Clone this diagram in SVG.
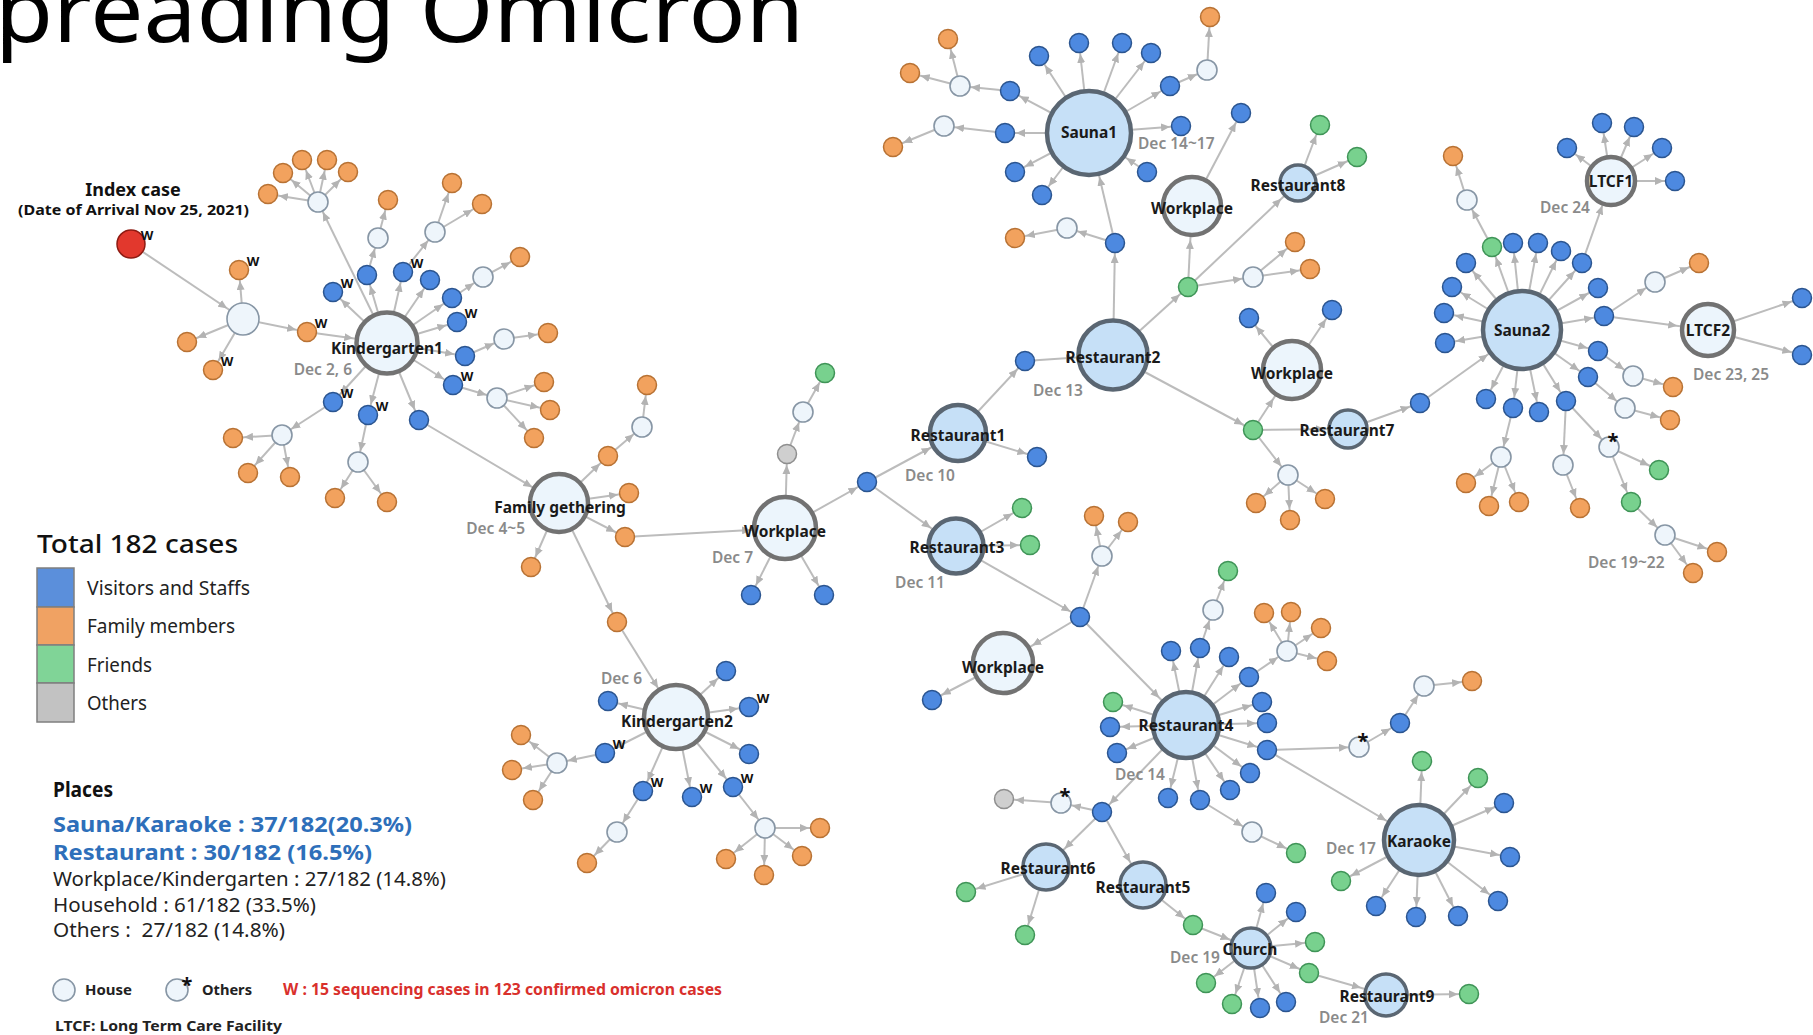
<svg xmlns="http://www.w3.org/2000/svg" width="1813" height="1035" viewBox="0 0 1813 1035">
<style>
text{font-family:"Noto Sans","Open Sans",sans-serif}
.b{fill:#4d89e0;stroke:#2b5590;stroke-width:1.5}
.o{fill:#f2a25e;stroke:#b87234;stroke-width:1.5}
.g{fill:#78d18e;stroke:#3f9457;stroke-width:1.5}
.y{fill:#cfcfcf;stroke:#8f8f8f;stroke-width:1.5}
.h{fill:#eef5fb;stroke:#8796a5;stroke-width:1.6}
.P{fill:#c6e0f7;stroke:#5a6672;stroke-width:4.5}
.Q{fill:#ecf5fc;stroke:#727272;stroke-width:4.5}
.t{stroke-width:3.5}
.lb{font-weight:700;font-size:15.5px;fill:#1a1a1a;text-anchor:middle}
.dt{font-weight:600;font-size:15.5px;fill:#8a8a8a}
.de{font-weight:600;font-size:15.5px;fill:#8a8a8a;text-anchor:end}
.w{font-weight:700;font-size:13px;fill:#111;text-anchor:middle}
.st{font-weight:700;font-size:20px;fill:#111;text-anchor:middle}
.lg{font-size:19px;fill:#222}
.pl{font-size:19px;fill:#222}
.pb{font-size:21.5px;font-weight:700;fill:#2e6fba}
.sm{font-size:15px;font-weight:700;fill:#222}
</style>
<defs>
<marker id="a" viewBox="0 0 9 8" refX="20" refY="4" markerWidth="9" markerHeight="8" markerUnits="userSpaceOnUse" orient="auto"><path d="M0,0L9,4L0,8z" fill="#b3b3b3"/></marker>
<marker id="a17" viewBox="0 0 9 8" refX="28" refY="4" markerWidth="9" markerHeight="8" markerUnits="userSpaceOnUse" orient="auto"><path d="M0,0L9,4L0,8z" fill="#b3b3b3"/></marker>
<marker id="a20" viewBox="0 0 9 8" refX="32" refY="4" markerWidth="9" markerHeight="8" markerUnits="userSpaceOnUse" orient="auto"><path d="M0,0L9,4L0,8z" fill="#b3b3b3"/></marker>
<marker id="a23" viewBox="0 0 9 8" refX="35" refY="4" markerWidth="9" markerHeight="8" markerUnits="userSpaceOnUse" orient="auto"><path d="M0,0L9,4L0,8z" fill="#b3b3b3"/></marker>
<marker id="a28" viewBox="0 0 9 8" refX="40" refY="4" markerWidth="9" markerHeight="8" markerUnits="userSpaceOnUse" orient="auto"><path d="M0,0L9,4L0,8z" fill="#b3b3b3"/></marker>
<marker id="a31" viewBox="0 0 9 8" refX="43" refY="4" markerWidth="9" markerHeight="8" markerUnits="userSpaceOnUse" orient="auto"><path d="M0,0L9,4L0,8z" fill="#b3b3b3"/></marker>
<marker id="a35" viewBox="0 0 9 8" refX="47" refY="4" markerWidth="9" markerHeight="8" markerUnits="userSpaceOnUse" orient="auto"><path d="M0,0L9,4L0,8z" fill="#b3b3b3"/></marker>
<marker id="a39" viewBox="0 0 9 8" refX="51" refY="4" markerWidth="9" markerHeight="8" markerUnits="userSpaceOnUse" orient="auto"><path d="M0,0L9,4L0,8z" fill="#b3b3b3"/></marker>
<marker id="a42" viewBox="0 0 9 8" refX="54" refY="4" markerWidth="9" markerHeight="8" markerUnits="userSpaceOnUse" orient="auto"><path d="M0,0L9,4L0,8z" fill="#b3b3b3"/></marker>
</defs>
<rect width="1813" height="1035" fill="#fff"/>
<text x="-5" y="42" font-family="'Open Sans','Noto Sans',sans-serif" font-size="88" fill="#000" textLength="809" lengthAdjust="spacingAndGlyphs">preading Omicron</text>

<g id="connectors" stroke="#bcbcbc" stroke-width="2" fill="none">
<g marker-end="url(#a)">
<line x1="243" y1="319" x2="239" y2="270"/><line x1="243" y1="319" x2="187" y2="342"/><line x1="243" y1="319" x2="213" y2="370"/><line x1="243" y1="319" x2="307" y2="332"/>
<line x1="387" y1="343" x2="318" y2="202"/><line x1="387" y1="343" x2="333" y2="292"/><line x1="387" y1="343" x2="367" y2="275"/><line x1="387" y1="343" x2="403" y2="272"/><line x1="387" y1="343" x2="430" y2="280"/><line x1="387" y1="343" x2="452" y2="298"/><line x1="387" y1="343" x2="457" y2="322"/><line x1="387" y1="343" x2="465" y2="356"/><line x1="387" y1="343" x2="453" y2="385"/><line x1="387" y1="343" x2="333" y2="402"/><line x1="387" y1="343" x2="368" y2="415"/><line x1="387" y1="343" x2="419" y2="420"/>
<line x1="318" y1="202" x2="268" y2="194"/><line x1="318" y1="202" x2="283" y2="173"/><line x1="318" y1="202" x2="302" y2="160"/><line x1="318" y1="202" x2="327" y2="160"/><line x1="318" y1="202" x2="348" y2="172"/>
<line x1="367" y1="275" x2="378" y2="238"/><line x1="378" y1="238" x2="388" y2="200"/>
<line x1="403" y1="272" x2="435" y2="232"/><line x1="435" y1="232" x2="452" y2="183"/><line x1="435" y1="232" x2="482" y2="204"/>
<line x1="452" y1="298" x2="483" y2="277"/><line x1="483" y1="277" x2="520" y2="257"/>
<line x1="465" y1="356" x2="504" y2="339"/><line x1="504" y1="339" x2="548" y2="333"/>
<line x1="453" y1="385" x2="497" y2="398"/><line x1="497" y1="398" x2="544" y2="382"/><line x1="497" y1="398" x2="550" y2="410"/><line x1="497" y1="398" x2="534" y2="438"/>
<line x1="333" y1="402" x2="282" y2="435"/><line x1="282" y1="435" x2="233" y2="438"/><line x1="282" y1="435" x2="248" y2="473"/><line x1="282" y1="435" x2="290" y2="477"/>
<line x1="368" y1="415" x2="358" y2="462"/><line x1="358" y1="462" x2="335" y2="498"/><line x1="358" y1="462" x2="387" y2="502"/>
<line x1="559" y1="503" x2="608" y2="456"/><line x1="559" y1="503" x2="629" y2="493"/><line x1="559" y1="503" x2="625" y2="537"/><line x1="559" y1="503" x2="531" y2="567"/><line x1="559" y1="503" x2="617" y2="622"/>
<line x1="608" y1="456" x2="642" y2="427"/><line x1="642" y1="427" x2="647" y2="385"/>
<line x1="785" y1="528" x2="787" y2="454"/><line x1="785" y1="528" x2="751" y2="595"/><line x1="785" y1="528" x2="824" y2="595"/><line x1="785" y1="528" x2="867" y2="482"/>
<line x1="787" y1="454" x2="803" y2="412"/><line x1="803" y1="412" x2="825" y2="373"/>
<line x1="676" y1="717" x2="726" y2="671"/><line x1="676" y1="717" x2="608" y2="701"/><line x1="676" y1="717" x2="749" y2="707"/><line x1="676" y1="717" x2="749" y2="754"/><line x1="676" y1="717" x2="605" y2="753"/><line x1="676" y1="717" x2="643" y2="791"/><line x1="676" y1="717" x2="692" y2="797"/><line x1="676" y1="717" x2="733" y2="787"/>
<line x1="605" y1="753" x2="557" y2="763"/><line x1="557" y1="763" x2="521" y2="735"/><line x1="557" y1="763" x2="512" y2="770"/><line x1="557" y1="763" x2="533" y2="800"/>
<line x1="643" y1="791" x2="617" y2="832"/><line x1="617" y1="832" x2="587" y2="863"/>
<line x1="733" y1="787" x2="765" y2="828"/><line x1="765" y1="828" x2="820" y2="828"/><line x1="765" y1="828" x2="802" y2="856"/><line x1="765" y1="828" x2="764" y2="875"/><line x1="765" y1="828" x2="726" y2="859"/>
<line x1="958" y1="433" x2="1037" y2="457"/><line x1="958" y1="433" x2="1025" y2="361"/>
<line x1="956" y1="546" x2="1022" y2="508"/><line x1="956" y1="546" x2="1030" y2="545"/><line x1="956" y1="546" x2="1080" y2="617"/>
<line x1="1080" y1="617" x2="1102" y2="556"/><line x1="1102" y1="556" x2="1094" y2="516"/><line x1="1102" y1="556" x2="1128" y2="522"/>
<line x1="1003" y1="663" x2="932" y2="700"/>
<line x1="1113" y1="355" x2="1115" y2="243"/><line x1="1113" y1="355" x2="1188" y2="287"/><line x1="1113" y1="355" x2="1253" y2="430"/>
<line x1="1115" y1="243" x2="1067" y2="228"/><line x1="1067" y1="228" x2="1015" y2="238"/>
<line x1="1192" y1="206" x2="1241" y2="113"/>
<line x1="1298" y1="183" x2="1320" y2="125"/><line x1="1298" y1="183" x2="1357" y2="157"/>
<line x1="1188" y1="287" x2="1253" y2="277"/><line x1="1253" y1="277" x2="1295" y2="242"/><line x1="1253" y1="277" x2="1310" y2="269"/>
<line x1="1292" y1="370" x2="1249" y2="318"/><line x1="1292" y1="370" x2="1332" y2="310"/>
<line x1="1253" y1="430" x2="1288" y2="475"/><line x1="1288" y1="475" x2="1256" y2="503"/><line x1="1288" y1="475" x2="1290" y2="520"/><line x1="1288" y1="475" x2="1325" y2="499"/>
<line x1="1348" y1="429" x2="1420" y2="403"/>
<line x1="1089" y1="133" x2="1039" y2="56"/><line x1="1089" y1="133" x2="1079" y2="43"/><line x1="1089" y1="133" x2="1122" y2="43"/><line x1="1089" y1="133" x2="1151" y2="53"/><line x1="1089" y1="133" x2="1170" y2="86"/><line x1="1089" y1="133" x2="1010" y2="91"/><line x1="1089" y1="133" x2="1005" y2="133"/><line x1="1089" y1="133" x2="1015" y2="172"/><line x1="1089" y1="133" x2="1042" y2="195"/><line x1="1089" y1="133" x2="1181" y2="126"/>
<line x1="1170" y1="86" x2="1207" y2="70"/><line x1="1207" y1="70" x2="1210" y2="17"/>
<line x1="1010" y1="91" x2="960" y2="86"/><line x1="960" y1="86" x2="948" y2="39"/><line x1="960" y1="86" x2="910" y2="73"/>
<line x1="1005" y1="133" x2="944" y2="126"/><line x1="944" y1="126" x2="893" y2="147"/>
<line x1="1522" y1="330" x2="1492" y2="247"/><line x1="1522" y1="330" x2="1513" y2="243"/><line x1="1522" y1="330" x2="1538" y2="243"/><line x1="1522" y1="330" x2="1561" y2="251"/><line x1="1522" y1="330" x2="1582" y2="263"/><line x1="1522" y1="330" x2="1466" y2="263"/><line x1="1522" y1="330" x2="1452" y2="287"/><line x1="1522" y1="330" x2="1444" y2="313"/><line x1="1522" y1="330" x2="1445" y2="343"/><line x1="1522" y1="330" x2="1598" y2="288"/><line x1="1522" y1="330" x2="1604" y2="316"/><line x1="1522" y1="330" x2="1598" y2="351"/><line x1="1522" y1="330" x2="1588" y2="377"/><line x1="1522" y1="330" x2="1486" y2="399"/><line x1="1522" y1="330" x2="1513" y2="408"/><line x1="1522" y1="330" x2="1539" y2="412"/><line x1="1522" y1="330" x2="1566" y2="401"/>
<line x1="1492" y1="247" x2="1467" y2="200"/><line x1="1467" y1="200" x2="1453" y2="156"/>
<line x1="1611" y1="181" x2="1567" y2="148"/><line x1="1611" y1="181" x2="1602" y2="123"/><line x1="1611" y1="181" x2="1634" y2="127"/><line x1="1611" y1="181" x2="1662" y2="148"/><line x1="1611" y1="181" x2="1675" y2="181"/>
<line x1="1708" y1="330" x2="1802" y2="298"/><line x1="1708" y1="330" x2="1802" y2="355"/>
<line x1="1604" y1="316" x2="1655" y2="282"/><line x1="1655" y1="282" x2="1699" y2="263"/>
<line x1="1598" y1="351" x2="1633" y2="376"/><line x1="1633" y1="376" x2="1673" y2="387"/>
<line x1="1588" y1="377" x2="1625" y2="408"/><line x1="1625" y1="408" x2="1670" y2="420"/>
<line x1="1513" y1="408" x2="1501" y2="457"/><line x1="1501" y1="457" x2="1466" y2="483"/><line x1="1501" y1="457" x2="1489" y2="506"/><line x1="1501" y1="457" x2="1519" y2="502"/>
<line x1="1566" y1="401" x2="1563" y2="465"/><line x1="1563" y1="465" x2="1580" y2="508"/>
<line x1="1566" y1="401" x2="1609" y2="447"/><line x1="1609" y1="447" x2="1659" y2="470"/><line x1="1609" y1="447" x2="1631" y2="502"/><line x1="1631" y1="502" x2="1665" y2="535"/><line x1="1665" y1="535" x2="1717" y2="552"/><line x1="1665" y1="535" x2="1693" y2="573"/>
<line x1="1186" y1="725" x2="1113" y2="702"/><line x1="1186" y1="725" x2="1110" y2="727"/><line x1="1186" y1="725" x2="1117" y2="753"/><line x1="1186" y1="725" x2="1171" y2="651"/><line x1="1186" y1="725" x2="1200" y2="648"/><line x1="1186" y1="725" x2="1229" y2="657"/><line x1="1186" y1="725" x2="1249" y2="677"/><line x1="1186" y1="725" x2="1262" y2="702"/><line x1="1186" y1="725" x2="1267" y2="723"/><line x1="1186" y1="725" x2="1267" y2="750"/><line x1="1186" y1="725" x2="1250" y2="773"/><line x1="1186" y1="725" x2="1230" y2="790"/><line x1="1186" y1="725" x2="1200" y2="800"/><line x1="1186" y1="725" x2="1168" y2="798"/><line x1="1186" y1="725" x2="1102" y2="812"/>
<line x1="1200" y1="648" x2="1213" y2="610"/><line x1="1213" y1="610" x2="1228" y2="571"/>
<line x1="1249" y1="677" x2="1287" y2="651"/><line x1="1287" y1="651" x2="1264" y2="613"/><line x1="1287" y1="651" x2="1291" y2="612"/><line x1="1287" y1="651" x2="1321" y2="628"/><line x1="1287" y1="651" x2="1327" y2="661"/>
<line x1="1267" y1="750" x2="1359" y2="747"/><line x1="1359" y1="747" x2="1400" y2="723"/><line x1="1400" y1="723" x2="1424" y2="686"/><line x1="1424" y1="686" x2="1472" y2="681"/>
<line x1="1200" y1="800" x2="1252" y2="832"/><line x1="1252" y1="832" x2="1296" y2="853"/>
<line x1="1102" y1="812" x2="1061" y2="803"/><line x1="1061" y1="803" x2="1004" y2="799"/>
<line x1="1046" y1="867" x2="966" y2="892"/><line x1="1046" y1="867" x2="1025" y2="935"/>
<line x1="1143" y1="885" x2="1193" y2="925"/>
<line x1="1251" y1="948" x2="1266" y2="893"/><line x1="1251" y1="948" x2="1296" y2="912"/><line x1="1251" y1="948" x2="1315" y2="942"/><line x1="1251" y1="948" x2="1309" y2="973"/><line x1="1251" y1="948" x2="1206" y2="983"/><line x1="1251" y1="948" x2="1232" y2="1004"/><line x1="1251" y1="948" x2="1260" y2="1008"/><line x1="1251" y1="948" x2="1286" y2="1002"/>
<line x1="1386" y1="995" x2="1469" y2="994"/>
<line x1="1419" y1="840" x2="1422" y2="761"/><line x1="1419" y1="840" x2="1478" y2="778"/><line x1="1419" y1="840" x2="1504" y2="803"/><line x1="1419" y1="840" x2="1510" y2="857"/><line x1="1419" y1="840" x2="1498" y2="901"/><line x1="1419" y1="840" x2="1458" y2="916"/><line x1="1419" y1="840" x2="1416" y2="917"/><line x1="1419" y1="840" x2="1376" y2="906"/><line x1="1419" y1="840" x2="1341" y2="881"/>
</g>
<g marker-end="url(#a17)"><line x1="131" y1="244" x2="243" y2="319"/></g>
<g marker-end="url(#a20)"><line x1="1188" y1="287" x2="1298" y2="183"/><line x1="1253" y1="430" x2="1348" y2="429"/><line x1="1193" y1="925" x2="1251" y2="948"/></g>
<g marker-end="url(#a23)"><line x1="1582" y1="263" x2="1611" y2="181"/><line x1="1102" y1="812" x2="1046" y2="867"/><line x1="1102" y1="812" x2="1143" y2="885"/><line x1="1309" y1="973" x2="1386" y2="995"/></g>
<g marker-end="url(#a28)"><line x1="419" y1="420" x2="559" y2="503"/><line x1="867" y1="482" x2="958" y2="433"/><line x1="867" y1="482" x2="956" y2="546"/><line x1="1604" y1="316" x2="1708" y2="330"/></g>
<g marker-end="url(#a31)"><line x1="307" y1="332" x2="387" y2="343"/><line x1="625" y1="537" x2="785" y2="528"/><line x1="617" y1="622" x2="676" y2="717"/><line x1="1080" y1="617" x2="1003" y2="663"/><line x1="1188" y1="287" x2="1192" y2="206"/><line x1="1253" y1="430" x2="1292" y2="370"/></g>
<g marker-end="url(#a35)"><line x1="1025" y1="361" x2="1113" y2="355"/><line x1="1080" y1="617" x2="1186" y2="725"/><line x1="1267" y1="750" x2="1419" y2="840"/></g>
<g marker-end="url(#a39)"><line x1="1420" y1="403" x2="1522" y2="330"/></g>
<g marker-end="url(#a42)"><line x1="1115" y1="243" x2="1089" y2="133"/><line x1="1147" y1="172" x2="1089" y2="133"/></g>
</g>

<g id="index_case"><text x="133" y="196" font-size="18" font-weight="700" text-anchor="middle" fill="#111">Index case</text><text x="18" y="215" font-size="14" font-weight="700" fill="#111" textLength="231" lengthAdjust="spacingAndGlyphs">(Date of Arrival Nov 25, 2021)</text><circle cx="131" cy="244" r="14" fill="#e2382d" stroke="#8e1b12" stroke-width="1.5"/><text class="w" x="147" y="240">W</text></g>

<g id="places">
<g id="kindergarten1"><circle class="Q" cx="387" cy="343" r="30.5"/><text class="lb" x="387" y="354">Kindergarten1</text><text class="de" x="352" y="375">Dec 2, 6</text></g>
<g id="family_gathering"><circle class="Q" cx="559" cy="503" r="29"/><text class="lb" x="560" y="513">Family gethering</text><text class="de" x="525" y="534">Dec 4~5</text></g>
<g id="workplace1"><circle class="Q" cx="785" cy="528" r="31"/><text class="lb" x="785" y="537">Workplace</text><text class="de" x="753" y="563">Dec 7</text></g>
<g id="kindergarten2"><circle class="Q" cx="676" cy="717" r="32"/><text class="lb" x="677" y="727">Kindergarten2</text><text class="de" x="642" y="684">Dec 6</text></g>
<g id="restaurant1"><circle class="P" cx="958" cy="433" r="28"/><text class="lb" x="958" y="441">Restaurant1</text><text class="dt" x="905" y="481">Dec 10</text></g>
<g id="restaurant3"><circle class="P" cx="956" cy="546" r="27.5"/><text class="lb" x="957" y="553">Restaurant3</text><text class="de" x="945" y="588">Dec 11</text></g>
<g id="workplace3"><circle class="Q" cx="1003" cy="663" r="30"/><text class="lb" x="1003" y="673">Workplace</text></g>
<g id="restaurant2"><circle class="P" cx="1113" cy="355" r="34.5"/><text class="lb" x="1113" y="363">Restaurant2</text><text class="dt" x="1033" y="396">Dec 13</text></g>
<g id="sauna1"><circle class="P" cx="1089" cy="133" r="42"/><text class="lb" x="1089" y="138">Sauna1</text><text class="dt" x="1138" y="149">Dec 14~17</text></g>
<g id="workplace_upper"><circle class="Q" cx="1192" cy="206" r="29"/><text class="lb" x="1192" y="214">Workplace</text></g>
<g id="restaurant8"><circle class="P t" cx="1298" cy="183" r="18"/><text class="lb" x="1298" y="191">Restaurant8</text></g>
<g id="workplace_lower"><circle class="Q" cx="1292" cy="370" r="29"/><text class="lb" x="1292" y="379">Workplace</text></g>
<g id="restaurant7"><circle class="P t" cx="1348" cy="429" r="19"/><text class="lb" x="1347" y="436">Restaurant7</text></g>
<g id="restaurant4"><circle class="P" cx="1186" cy="725" r="33"/><text class="lb" x="1186" y="731">Restaurant4</text><text class="dt" x="1115" y="780">Dec 14</text></g>
<g id="karaoke"><circle class="P" cx="1419" cy="840" r="35"/><text class="lb" x="1419" y="847">Karaoke</text><text class="dt" x="1326" y="854">Dec 17</text></g>
<g id="restaurant6"><circle class="P t" cx="1046" cy="867" r="23"/><text class="lb" x="1048" y="874">Restaurant6</text></g>
<g id="restaurant5"><circle class="P t" cx="1143" cy="885" r="23"/><text class="lb" x="1143" y="893">Restaurant5</text></g>
<g id="church"><circle class="P t" cx="1251" cy="948" r="20"/><text class="lb" x="1250" y="955">Church</text><text class="dt" x="1170" y="963">Dec 19</text></g>
<g id="restaurant9"><circle class="P t" cx="1386" cy="995" r="21"/><text class="lb" x="1387" y="1002">Restaurant9</text><text class="dt" x="1319" y="1023">Dec 21</text></g>
<g id="sauna2"><circle class="P" cx="1522" cy="330" r="39"/><text class="lb" x="1522" y="336">Sauna2</text><text class="dt" x="1588" y="568">Dec 19~22</text></g>
<g id="ltcf1"><circle class="Q" stroke-width="4" cx="1611" cy="181" r="24"/><text class="lb" x="1611" y="187">LTCF1</text><text class="dt" x="1540" y="213">Dec 24</text></g>
<g id="ltcf2"><circle class="Q" stroke-width="4" cx="1708" cy="330" r="26"/><text class="lb" x="1708" y="336">LTCF2</text><text class="dt" x="1693" y="380">Dec 23, 25</text></g>
</g>

<g id="houses">
<g id="h0"><circle class="h" cx="243" cy="319" r="16"/></g>
<g id="h1"><circle class="h" cx="318" cy="202" r="10"/></g>
<g id="h2"><circle class="h" cx="378" cy="238" r="10"/></g>
<g id="h3"><circle class="h" cx="435" cy="232" r="10"/></g>
<g id="h4"><circle class="h" cx="483" cy="277" r="10"/></g>
<g id="h5"><circle class="h" cx="504" cy="339" r="10"/></g>
<g id="h6"><circle class="h" cx="497" cy="398" r="10"/></g>
<g id="h7"><circle class="h" cx="282" cy="435" r="10"/></g>
<g id="h8"><circle class="h" cx="358" cy="462" r="10"/></g>
<g id="h9"><circle class="h" cx="642" cy="427" r="10"/></g>
<g id="h10"><circle class="h" cx="803" cy="412" r="10"/></g>
<g id="h11"><circle class="h" cx="557" cy="763" r="10"/></g>
<g id="h12"><circle class="h" cx="617" cy="832" r="10"/></g>
<g id="h13"><circle class="h" cx="765" cy="828" r="10"/></g>
<g id="h14"><circle class="h" cx="1102" cy="556" r="10"/></g>
<g id="h15"><circle class="h" cx="1067" cy="228" r="10"/></g>
<g id="h16"><circle class="h" cx="1253" cy="277" r="10"/></g>
<g id="h17"><circle class="h" cx="1288" cy="475" r="10"/></g>
<g id="h18"><circle class="h" cx="1207" cy="70" r="10"/></g>
<g id="h19"><circle class="h" cx="960" cy="86" r="10"/></g>
<g id="h20"><circle class="h" cx="944" cy="126" r="10"/></g>
<g id="h21"><circle class="h" cx="1467" cy="200" r="10"/></g>
<g id="h22"><circle class="h" cx="1655" cy="282" r="10"/></g>
<g id="h23"><circle class="h" cx="1633" cy="376" r="10"/></g>
<g id="h24"><circle class="h" cx="1625" cy="408" r="10"/></g>
<g id="h25"><circle class="h" cx="1501" cy="457" r="10"/></g>
<g id="h26"><circle class="h" cx="1563" cy="465" r="10"/></g>
<g id="h27"><circle class="h" cx="1609" cy="447" r="10"/><text class="st" x="1613" y="448">*</text></g>
<g id="h28"><circle class="h" cx="1665" cy="535" r="10"/></g>
<g id="h29"><circle class="h" cx="1213" cy="610" r="10"/></g>
<g id="h30"><circle class="h" cx="1287" cy="651" r="10"/></g>
<g id="h31"><circle class="h" cx="1359" cy="747" r="10"/><text class="st" x="1363" y="748">*</text></g>
<g id="h32"><circle class="h" cx="1424" cy="686" r="10"/></g>
<g id="h33"><circle class="h" cx="1252" cy="832" r="10"/></g>
<g id="h34"><circle class="h" cx="1061" cy="803" r="10"/><text class="st" x="1065" y="803">*</text></g>
</g>

<g id="cases">
<g id="o1"><circle class="o" cx="239" cy="270" r="9.5"/><text class="w" x="253" y="266">W</text></g>
<g id="o2"><circle class="o" cx="187" cy="342" r="9.5"/></g>
<g id="o3"><circle class="o" cx="213" cy="370" r="9.5"/><text class="w" x="227" y="366">W</text></g>
<g id="o4"><circle class="o" cx="307" cy="332" r="9.5"/><text class="w" x="321" y="328">W</text></g>
<g id="o5"><circle class="o" cx="268" cy="194" r="9.5"/></g>
<g id="o6"><circle class="o" cx="283" cy="173" r="9.5"/></g>
<g id="o7"><circle class="o" cx="302" cy="160" r="9.5"/></g>
<g id="o8"><circle class="o" cx="327" cy="160" r="9.5"/></g>
<g id="o9"><circle class="o" cx="348" cy="172" r="9.5"/></g>
<g id="b1"><circle class="b" cx="333" cy="292" r="9.5"/><text class="w" x="347" y="288">W</text></g>
<g id="b2"><circle class="b" cx="367" cy="275" r="9.5"/></g>
<g id="o10"><circle class="o" cx="388" cy="200" r="9.5"/></g>
<g id="b3"><circle class="b" cx="403" cy="272" r="9.5"/><text class="w" x="417" y="268">W</text></g>
<g id="o11"><circle class="o" cx="452" cy="183" r="9.5"/></g>
<g id="o12"><circle class="o" cx="482" cy="204" r="9.5"/></g>
<g id="b4"><circle class="b" cx="430" cy="280" r="9.5"/></g>
<g id="b5"><circle class="b" cx="452" cy="298" r="9.5"/></g>
<g id="o13"><circle class="o" cx="520" cy="257" r="9.5"/></g>
<g id="b6"><circle class="b" cx="457" cy="322" r="9.5"/><text class="w" x="471" y="318">W</text></g>
<g id="b7"><circle class="b" cx="465" cy="356" r="9.5"/></g>
<g id="o14"><circle class="o" cx="548" cy="333" r="9.5"/></g>
<g id="b8"><circle class="b" cx="453" cy="385" r="9.5"/><text class="w" x="467" y="381">W</text></g>
<g id="o15"><circle class="o" cx="544" cy="382" r="9.5"/></g>
<g id="o16"><circle class="o" cx="550" cy="410" r="9.5"/></g>
<g id="o17"><circle class="o" cx="534" cy="438" r="9.5"/></g>
<g id="b9"><circle class="b" cx="333" cy="402" r="9.5"/><text class="w" x="347" y="398">W</text></g>
<g id="o18"><circle class="o" cx="233" cy="438" r="9.5"/></g>
<g id="o19"><circle class="o" cx="248" cy="473" r="9.5"/></g>
<g id="o20"><circle class="o" cx="290" cy="477" r="9.5"/></g>
<g id="b10"><circle class="b" cx="368" cy="415" r="9.5"/><text class="w" x="382" y="411">W</text></g>
<g id="o21"><circle class="o" cx="335" cy="498" r="9.5"/></g>
<g id="o22"><circle class="o" cx="387" cy="502" r="9.5"/></g>
<g id="b11"><circle class="b" cx="419" cy="420" r="9.5"/></g>
<g id="o23"><circle class="o" cx="608" cy="456" r="9.5"/></g>
<g id="o24"><circle class="o" cx="647" cy="385" r="9.5"/></g>
<g id="o25"><circle class="o" cx="629" cy="493" r="9.5"/></g>
<g id="o26"><circle class="o" cx="625" cy="537" r="9.5"/></g>
<g id="o27"><circle class="o" cx="531" cy="567" r="9.5"/></g>
<g id="o28"><circle class="o" cx="617" cy="622" r="9.5"/></g>
<g id="gy1"><circle class="y" cx="787" cy="454" r="9.5"/></g>
<g id="g1"><circle class="g" cx="825" cy="373" r="9.5"/></g>
<g id="b12"><circle class="b" cx="751" cy="595" r="9.5"/></g>
<g id="b13"><circle class="b" cx="824" cy="595" r="9.5"/></g>
<g id="b14"><circle class="b" cx="867" cy="482" r="9.5"/></g>
<g id="b15"><circle class="b" cx="726" cy="671" r="9.5"/></g>
<g id="b16"><circle class="b" cx="608" cy="701" r="9.5"/></g>
<g id="b17"><circle class="b" cx="749" cy="707" r="9.5"/><text class="w" x="763" y="703">W</text></g>
<g id="b18"><circle class="b" cx="749" cy="754" r="9.5"/></g>
<g id="b19"><circle class="b" cx="605" cy="753" r="9.5"/><text class="w" x="619" y="749">W</text></g>
<g id="o29"><circle class="o" cx="521" cy="735" r="9.5"/></g>
<g id="o30"><circle class="o" cx="512" cy="770" r="9.5"/></g>
<g id="o31"><circle class="o" cx="533" cy="800" r="9.5"/></g>
<g id="b20"><circle class="b" cx="643" cy="791" r="9.5"/><text class="w" x="657" y="787">W</text></g>
<g id="o32"><circle class="o" cx="587" cy="863" r="9.5"/></g>
<g id="b21"><circle class="b" cx="692" cy="797" r="9.5"/><text class="w" x="706" y="793">W</text></g>
<g id="b22"><circle class="b" cx="733" cy="787" r="9.5"/><text class="w" x="747" y="783">W</text></g>
<g id="o33"><circle class="o" cx="820" cy="828" r="9.5"/></g>
<g id="o34"><circle class="o" cx="802" cy="856" r="9.5"/></g>
<g id="o35"><circle class="o" cx="764" cy="875" r="9.5"/></g>
<g id="o36"><circle class="o" cx="726" cy="859" r="9.5"/></g>
<g id="b23"><circle class="b" cx="1037" cy="457" r="9.5"/></g>
<g id="b24"><circle class="b" cx="1025" cy="361" r="9.5"/></g>
<g id="g2"><circle class="g" cx="1022" cy="508" r="9.5"/></g>
<g id="g3"><circle class="g" cx="1030" cy="545" r="9.5"/></g>
<g id="b25"><circle class="b" cx="1080" cy="617" r="9.5"/></g>
<g id="o37"><circle class="o" cx="1094" cy="516" r="9.5"/></g>
<g id="o38"><circle class="o" cx="1128" cy="522" r="9.5"/></g>
<g id="b26"><circle class="b" cx="932" cy="700" r="9.5"/></g>
<g id="b27"><circle class="b" cx="1115" cy="243" r="9.5"/></g>
<g id="o39"><circle class="o" cx="1015" cy="238" r="9.5"/></g>
<g id="g4"><circle class="g" cx="1188" cy="287" r="9.5"/></g>
<g id="b28"><circle class="b" cx="1241" cy="113" r="9.5"/></g>
<g id="g5"><circle class="g" cx="1320" cy="125" r="9.5"/></g>
<g id="g6"><circle class="g" cx="1357" cy="157" r="9.5"/></g>
<g id="o40"><circle class="o" cx="1295" cy="242" r="9.5"/></g>
<g id="o41"><circle class="o" cx="1310" cy="269" r="9.5"/></g>
<g id="g7"><circle class="g" cx="1253" cy="430" r="9.5"/></g>
<g id="b29"><circle class="b" cx="1249" cy="318" r="9.5"/></g>
<g id="b30"><circle class="b" cx="1332" cy="310" r="9.5"/></g>
<g id="o42"><circle class="o" cx="1256" cy="503" r="9.5"/></g>
<g id="o43"><circle class="o" cx="1290" cy="520" r="9.5"/></g>
<g id="o44"><circle class="o" cx="1325" cy="499" r="9.5"/></g>
<g id="b31"><circle class="b" cx="1420" cy="403" r="9.5"/></g>
<g id="b32"><circle class="b" cx="1039" cy="56" r="9.5"/></g>
<g id="b33"><circle class="b" cx="1079" cy="43" r="9.5"/></g>
<g id="b34"><circle class="b" cx="1122" cy="43" r="9.5"/></g>
<g id="b35"><circle class="b" cx="1151" cy="53" r="9.5"/></g>
<g id="b36"><circle class="b" cx="1170" cy="86" r="9.5"/></g>
<g id="o45"><circle class="o" cx="1210" cy="17" r="9.5"/></g>
<g id="b37"><circle class="b" cx="1010" cy="91" r="9.5"/></g>
<g id="o46"><circle class="o" cx="948" cy="39" r="9.5"/></g>
<g id="o47"><circle class="o" cx="910" cy="73" r="9.5"/></g>
<g id="b38"><circle class="b" cx="1005" cy="133" r="9.5"/></g>
<g id="o48"><circle class="o" cx="893" cy="147" r="9.5"/></g>
<g id="b39"><circle class="b" cx="1015" cy="172" r="9.5"/></g>
<g id="b40"><circle class="b" cx="1042" cy="195" r="9.5"/></g>
<g id="b41"><circle class="b" cx="1147" cy="172" r="9.5"/></g>
<g id="b42"><circle class="b" cx="1181" cy="126" r="9.5"/></g>
<g id="g8"><circle class="g" cx="1492" cy="247" r="9.5"/></g>
<g id="o49"><circle class="o" cx="1453" cy="156" r="9.5"/></g>
<g id="b43"><circle class="b" cx="1513" cy="243" r="9.5"/></g>
<g id="b44"><circle class="b" cx="1538" cy="243" r="9.5"/></g>
<g id="b45"><circle class="b" cx="1561" cy="251" r="9.5"/></g>
<g id="b46"><circle class="b" cx="1582" cy="263" r="9.5"/></g>
<g id="b47"><circle class="b" cx="1466" cy="263" r="9.5"/></g>
<g id="b48"><circle class="b" cx="1452" cy="287" r="9.5"/></g>
<g id="b49"><circle class="b" cx="1444" cy="313" r="9.5"/></g>
<g id="b50"><circle class="b" cx="1445" cy="343" r="9.5"/></g>
<g id="b51"><circle class="b" cx="1598" cy="288" r="9.5"/></g>
<g id="b52"><circle class="b" cx="1604" cy="316" r="9.5"/></g>
<g id="o50"><circle class="o" cx="1699" cy="263" r="9.5"/></g>
<g id="b53"><circle class="b" cx="1598" cy="351" r="9.5"/></g>
<g id="o51"><circle class="o" cx="1673" cy="387" r="9.5"/></g>
<g id="b54"><circle class="b" cx="1588" cy="377" r="9.5"/></g>
<g id="o52"><circle class="o" cx="1670" cy="420" r="9.5"/></g>
<g id="b55"><circle class="b" cx="1486" cy="399" r="9.5"/></g>
<g id="b56"><circle class="b" cx="1513" cy="408" r="9.5"/></g>
<g id="o53"><circle class="o" cx="1466" cy="483" r="9.5"/></g>
<g id="o54"><circle class="o" cx="1489" cy="506" r="9.5"/></g>
<g id="o55"><circle class="o" cx="1519" cy="502" r="9.5"/></g>
<g id="b57"><circle class="b" cx="1539" cy="412" r="9.5"/></g>
<g id="b58"><circle class="b" cx="1566" cy="401" r="9.5"/></g>
<g id="o56"><circle class="o" cx="1580" cy="508" r="9.5"/></g>
<g id="g9"><circle class="g" cx="1659" cy="470" r="9.5"/></g>
<g id="g10"><circle class="g" cx="1631" cy="502" r="9.5"/></g>
<g id="o57"><circle class="o" cx="1717" cy="552" r="9.5"/></g>
<g id="o58"><circle class="o" cx="1693" cy="573" r="9.5"/></g>
<g id="b59"><circle class="b" cx="1567" cy="148" r="9.5"/></g>
<g id="b60"><circle class="b" cx="1602" cy="123" r="9.5"/></g>
<g id="b61"><circle class="b" cx="1634" cy="127" r="9.5"/></g>
<g id="b62"><circle class="b" cx="1662" cy="148" r="9.5"/></g>
<g id="b63"><circle class="b" cx="1675" cy="181" r="9.5"/></g>
<g id="b64"><circle class="b" cx="1802" cy="298" r="9.5"/></g>
<g id="b65"><circle class="b" cx="1802" cy="355" r="9.5"/></g>
<g id="g11"><circle class="g" cx="1113" cy="702" r="9.5"/></g>
<g id="b66"><circle class="b" cx="1110" cy="727" r="9.5"/></g>
<g id="b67"><circle class="b" cx="1117" cy="753" r="9.5"/></g>
<g id="b68"><circle class="b" cx="1171" cy="651" r="9.5"/></g>
<g id="b69"><circle class="b" cx="1200" cy="648" r="9.5"/></g>
<g id="g12"><circle class="g" cx="1228" cy="571" r="9.5"/></g>
<g id="b70"><circle class="b" cx="1229" cy="657" r="9.5"/></g>
<g id="b71"><circle class="b" cx="1249" cy="677" r="9.5"/></g>
<g id="o59"><circle class="o" cx="1264" cy="613" r="9.5"/></g>
<g id="o60"><circle class="o" cx="1291" cy="612" r="9.5"/></g>
<g id="o61"><circle class="o" cx="1321" cy="628" r="9.5"/></g>
<g id="o62"><circle class="o" cx="1327" cy="661" r="9.5"/></g>
<g id="b72"><circle class="b" cx="1262" cy="702" r="9.5"/></g>
<g id="b73"><circle class="b" cx="1267" cy="723" r="9.5"/></g>
<g id="b74"><circle class="b" cx="1267" cy="750" r="9.5"/></g>
<g id="b75"><circle class="b" cx="1400" cy="723" r="9.5"/></g>
<g id="o63"><circle class="o" cx="1472" cy="681" r="9.5"/></g>
<g id="b76"><circle class="b" cx="1250" cy="773" r="9.5"/></g>
<g id="b77"><circle class="b" cx="1230" cy="790" r="9.5"/></g>
<g id="b78"><circle class="b" cx="1200" cy="800" r="9.5"/></g>
<g id="g13"><circle class="g" cx="1296" cy="853" r="9.5"/></g>
<g id="b79"><circle class="b" cx="1168" cy="798" r="9.5"/></g>
<g id="b80"><circle class="b" cx="1102" cy="812" r="9.5"/></g>
<g id="gy2"><circle class="y" cx="1004" cy="799" r="9.5"/></g>
<g id="g14"><circle class="g" cx="966" cy="892" r="9.5"/></g>
<g id="g15"><circle class="g" cx="1025" cy="935" r="9.5"/></g>
<g id="g16"><circle class="g" cx="1193" cy="925" r="9.5"/></g>
<g id="b81"><circle class="b" cx="1266" cy="893" r="9.5"/></g>
<g id="b82"><circle class="b" cx="1296" cy="912" r="9.5"/></g>
<g id="g17"><circle class="g" cx="1315" cy="942" r="9.5"/></g>
<g id="g18"><circle class="g" cx="1309" cy="973" r="9.5"/></g>
<g id="g19"><circle class="g" cx="1469" cy="994" r="9.5"/></g>
<g id="g20"><circle class="g" cx="1206" cy="983" r="9.5"/></g>
<g id="g21"><circle class="g" cx="1232" cy="1004" r="9.5"/></g>
<g id="b83"><circle class="b" cx="1260" cy="1008" r="9.5"/></g>
<g id="b84"><circle class="b" cx="1286" cy="1002" r="9.5"/></g>
<g id="g22"><circle class="g" cx="1422" cy="761" r="9.5"/></g>
<g id="g23"><circle class="g" cx="1478" cy="778" r="9.5"/></g>
<g id="b85"><circle class="b" cx="1504" cy="803" r="9.5"/></g>
<g id="b86"><circle class="b" cx="1510" cy="857" r="9.5"/></g>
<g id="b87"><circle class="b" cx="1498" cy="901" r="9.5"/></g>
<g id="b88"><circle class="b" cx="1458" cy="916" r="9.5"/></g>
<g id="b89"><circle class="b" cx="1416" cy="917" r="9.5"/></g>
<g id="b90"><circle class="b" cx="1376" cy="906" r="9.5"/></g>
<g id="g24"><circle class="g" cx="1341" cy="881" r="9.5"/></g>
</g>

<g id="legend">
<text x="37" y="553" font-size="26" font-weight="500" fill="#111" textLength="201" lengthAdjust="spacingAndGlyphs">Total 182 cases</text>
<g stroke="#7f7f7f" stroke-width="1.5">
<rect x="37" y="568" width="37" height="39" fill="#5b8fdb"/>
<rect x="37" y="607" width="37" height="38" fill="#f0a263"/>
<rect x="37" y="645" width="37" height="38" fill="#80d497"/>
<rect x="37" y="683" width="37" height="39" fill="#c2c2c2"/>
</g>
<text class="lg" x="87" y="595" textLength="163" lengthAdjust="spacingAndGlyphs">Visitors and Staffs</text>
<text class="lg" x="87" y="633" textLength="148" lengthAdjust="spacingAndGlyphs">Family members</text>
<text class="lg" x="87" y="672" textLength="65" lengthAdjust="spacingAndGlyphs">Friends</text>
<text class="lg" x="87" y="710" textLength="60" lengthAdjust="spacingAndGlyphs">Others</text>
<text x="53" y="797" font-size="21" font-weight="700" fill="#111" textLength="60" lengthAdjust="spacingAndGlyphs">Places</text>
<text class="pb" x="53" y="832" textLength="359" lengthAdjust="spacingAndGlyphs">Sauna/Karaoke : 37/182(20.3%)</text>
<text class="pb" x="53" y="860" textLength="319" lengthAdjust="spacingAndGlyphs">Restaurant : 30/182 (16.5%)</text>
<text class="pl" x="53" y="886" textLength="393" lengthAdjust="spacingAndGlyphs">Workplace/Kindergarten : 27/182 (14.8%)</text>
<text class="pl" x="53" y="912" textLength="263" lengthAdjust="spacingAndGlyphs">Household : 61/182 (33.5%)</text>
<text class="pl" x="53" y="937" textLength="232" lengthAdjust="spacingAndGlyphs" xml:space="preserve">Others :  27/182 (14.8%)</text>
<circle class="h" cx="64" cy="990" r="11"/>
<text class="sm" x="85" y="995" textLength="47" lengthAdjust="spacingAndGlyphs">House</text>
<circle class="h" cx="177" cy="990" r="11"/>
<text class="st" x="187" y="992">*</text>
<text class="sm" x="202" y="995" textLength="50" lengthAdjust="spacingAndGlyphs">Others</text>
<text x="283" y="995" font-size="15.5" font-weight="700" fill="#d9302c" textLength="439" lengthAdjust="spacingAndGlyphs">W : 15 sequencing cases in 123 confirmed omicron cases</text>
<text class="sm" x="55" y="1031" textLength="227" lengthAdjust="spacingAndGlyphs">LTCF: Long Term Care Facility</text>
</g>
</svg>
